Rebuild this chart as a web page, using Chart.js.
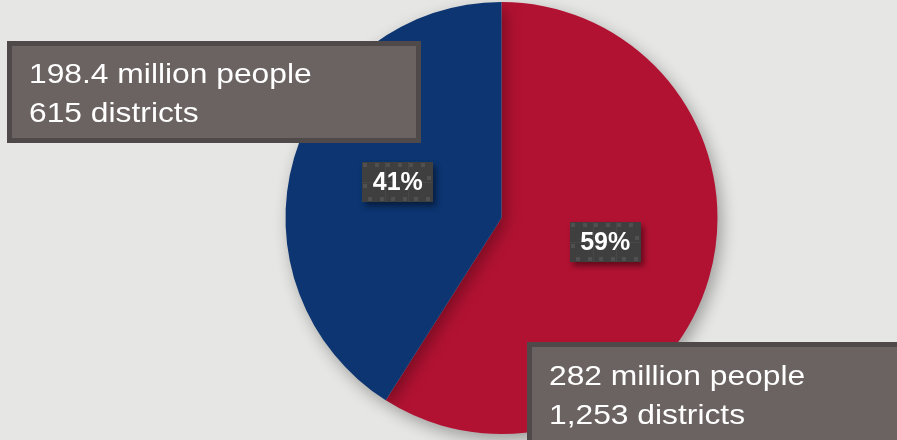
<!DOCTYPE html>
<html>
<head>
<meta charset="utf-8">
<title>People and districts</title>
<script src="https://cdn.jsdelivr.net/npm/chart.js@4.4.1/dist/chart.umd.min.js"></script>
<style>
  html, body { margin: 0; padding: 0; background: #e6e6e4; }
  #wrap { width: 897px; height: 440px; position: relative; }
</style>
</head>
<body>
<div id="wrap"><canvas id="pie" width="897" height="440"></canvas></div>
<script>
  // ---- data ----
  const categories = ['Red', 'Blue'];
  const shares = [59, 41];
  const colors = ['#b21232', '#0c3571'];
  const calloutLines = [
    ['282 million people', '1,253 districts'],
    ['198.4 million people', '615 districts']
  ];

  // callout boxes: [x, y, w, h, textX, firstBaseline]
  const calloutBoxes = [
    [527, 342, 400, 120, 549, 385],
    [7, 41, 414, 102, 29, 83]
  ];

  // soft drop shadow under the pie
  const pieShadow = {
    id: 'pieShadow',
    beforeDatasetDraw(chart) {
      const ctx = chart.ctx;
      ctx.save();
      ctx.shadowColor = 'rgba(0,0,0,0.32)';
      ctx.shadowBlur = 16;
      ctx.shadowOffsetX = 4;
      ctx.shadowOffsetY = 6;
    },
    afterDatasetDraw(chart) {
      chart.ctx.restore();
    }
  };

  // percent tags and the two callout boxes
  const labels = {
    id: 'labels',
    afterDraw(chart) {
      const ctx = chart.ctx;
      const meta = chart.getDatasetMeta(0);

      meta.data.forEach((arc, i) => {
        const p = arc.tooltipPosition();
        p.y -= 6; // top face of the tilted pie sits a little higher
        const w = 71, h = 40;
        const x = Math.round(p.x - w / 2), y = Math.round(p.y - h / 2);
        ctx.save();
        ctx.shadowColor = 'rgba(0,0,0,0.45)';
        ctx.shadowBlur = 6;
        ctx.shadowOffsetX = 3;
        ctx.shadowOffsetY = 4;
        ctx.fillStyle = '#3f3f3f';
        ctx.fillRect(x, y, w, h);
        ctx.restore();

        // faint tile pattern
        ctx.save();
        ctx.fillStyle = 'rgba(255,255,255,0.09)';
        for (let gx = x + 1; gx < x + w - 3; gx += 11.5) {
          ctx.fillRect(Math.round(gx), y + 1, 4, 4);
          ctx.fillRect(Math.round(gx + 5), y + h - 5, 4, 4);
        }
        ctx.fillRect(x + w - 6, y + 14, 4, 4);
        ctx.fillRect(x + 1, y + 22, 4, 4);
        ctx.strokeStyle = 'rgba(255,255,255,0.05)';
        ctx.beginPath();
        ctx.moveTo(x + 23.5, y); ctx.lineTo(x + 23.5, y + h);
        ctx.moveTo(x + 46.5, y); ctx.lineTo(x + 46.5, y + h);
        ctx.moveTo(x, y + 20.5); ctx.lineTo(x + w, y + 20.5);
        ctx.stroke();
        ctx.restore();

        ctx.save();
        ctx.fillStyle = '#ffffff';
        ctx.font = 'bold 25px "Liberation Sans", Arial, sans-serif';
        ctx.textAlign = 'center';
        ctx.textBaseline = 'middle';
        ctx.fillText(shares[i] + '%', p.x, p.y + 1);
        ctx.restore();
      });

      calloutBoxes.forEach((b, i) => {
        const [bx, by, bw, bh, tx, ty] = b;
        ctx.save();
        ctx.fillStyle = '#4f4a49';
        ctx.fillRect(bx, by, bw, bh);
        ctx.fillStyle = '#6b6361';
        ctx.fillRect(bx + 5, by + 5, bw - 10, bh - 10);
        ctx.fillStyle = '#ffffff';
        ctx.font = '28px "Liberation Sans", Arial, sans-serif';
        ctx.textBaseline = 'alphabetic';
        calloutLines[i].forEach((line, k) => {
          ctx.save();
          ctx.translate(tx, ty + k * 39);
          ctx.scale(1.135, 1);
          ctx.fillText(line, 0, 0);
          ctx.restore();
        });
        ctx.restore();
      });
    }
  };

  new Chart(document.getElementById('pie'), {
    type: 'pie',
    data: {
      labels: categories,
      datasets: [{
        data: shares,
        backgroundColor: colors,
        borderWidth: 0,
        hoverOffset: 0
      }]
    },
    options: {
      responsive: false,
      animation: false,
      radius: 216,
      layout: { padding: { left: 106, right: 0, top: 2, bottom: 6 } },
      plugins: {
        legend: { display: false },
        tooltip: { enabled: false }
      },
      events: []
    },
    plugins: [pieShadow, labels]
  });
</script>
</body>
</html>
